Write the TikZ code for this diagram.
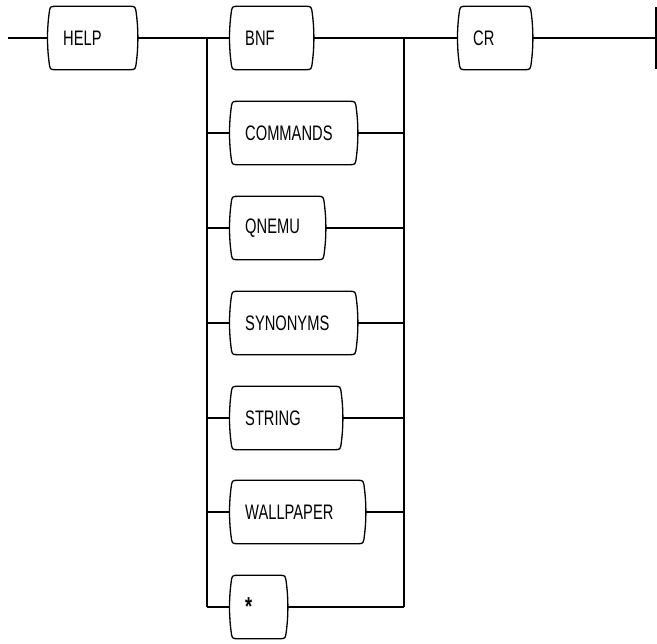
\documentclass[tikz,border=0pt]{standalone}
\usepackage{fontspec}
\newfontfamily\plotfont[FakeStretch=0.7]{Liberation Sans}
\usetikzlibrary{positioning}

\begin{document}
\begin{tikzpicture}[
    x=1pt, y=-1pt,
    box/.style={minimum height=63pt, inner xsep=15pt, inner ysep=0pt, anchor=west, align=left, text width=#1, font=\plotfont\fontsize{21}{21}\selectfont},
    outline/.style={line width=1.3pt, line join=round},
    line/.style={line width=1.3pt}
]
    \useasboundingbox (0,0) rectangle (657,644);

    % Elementos
    \node[box=59pt] (help) at (48,38) {HELP};
    \node[box=53pt] (bnf) at (230,38) {BNF};
    \node[box=44pt] (cr) at (458,38) {CR};
    \node[box=97pt] (commands) at (230,133) {COMMANDS};
    \node[box=65pt] (qnemu) at (230,228) {QNEMU};
    \node[box=97pt] (synonyms) at (230,323) {SYNONYMS};
    \node[box=82pt] (string) at (230,418) {STRING};
    \node[box=105pt] (wallpaper) at (230,512) {WALLPAPER};
    \node[box=27pt] (star) at (230,607) {\raisebox{-0.3em}{\fontsize{26}{26}\selectfont\bfseries *}};

    % Contornos das caixas
    \foreach \n in {help,bnf,cr,commands,qnemu,synonyms,string,wallpaper,star}
        \draw[outline] ([xshift=8pt]\n.north west) -- ([xshift=-8pt]\n.north east)
            .. controls ([xshift=-2pt]\n.north east) .. ([xshift=-1pt,yshift=-8pt]\n.north east)
            .. controls ([xshift=1pt,yshift=-24pt]\n.north east) and ([xshift=1pt,yshift=24pt]\n.south east) .. ([xshift=-1pt,yshift=8pt]\n.south east)
            .. controls ([xshift=-2pt]\n.south east) .. ([xshift=-8pt]\n.south east)
            -- ([xshift=8pt]\n.south west)
            .. controls ([xshift=2pt]\n.south west) .. ([xshift=1pt,yshift=8pt]\n.south west)
            .. controls ([xshift=-1pt,yshift=24pt]\n.south west) and ([xshift=-1pt,yshift=-24pt]\n.north west) .. ([xshift=1pt,yshift=-8pt]\n.north west)
            .. controls ([xshift=2pt]\n.north west) .. ([xshift=8pt]\n.north west) -- cycle;

    % Pontos da linha principal
    \coordinate (start) at (8,38);
    \coordinate (jl) at (207,38);
    \coordinate (jr) at (404,38);
    \coordinate (stop) at (656,38);
    \coordinate (bartop) at (656,7);
    \coordinate (barbot) at (656,69);

    % Linha principal
    \draw[line] (start) -- (help.west);
    \draw[line] (help.east) -- (bnf.west);
    \draw[line] (bnf.east) -- (cr.west);
    \draw[line] (cr.east) -- (stop);
    \draw[line] (bartop) -- (barbot);

    % Alternativas
    \draw[line] (jl) -- (jl |- star.west);
    \draw[line] (jr) -- (jr |- star.east);
    \foreach \n in {commands,qnemu,synonyms,string,wallpaper,star} {
        \draw[line] (jl |- \n.west) -- (\n.west);
        \draw[line] (\n.east) -- (jr |- \n.east);
    }
\end{tikzpicture}
\end{document}
